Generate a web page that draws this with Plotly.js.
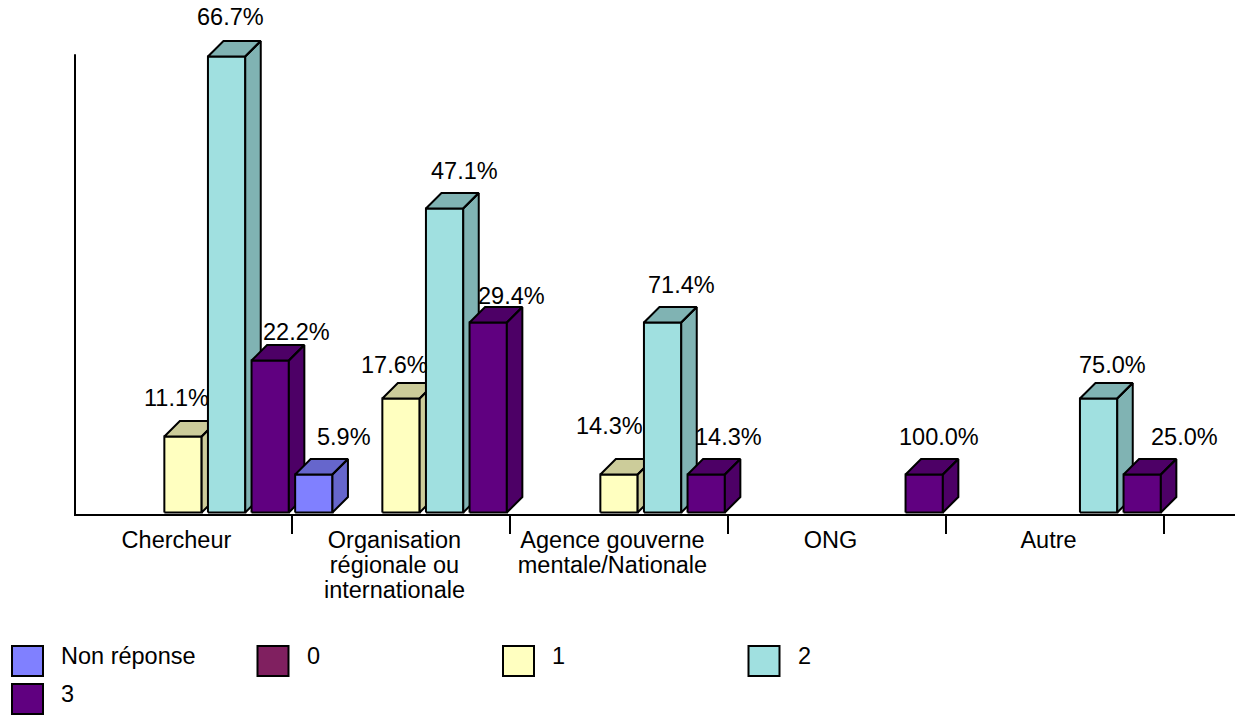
<!DOCTYPE html>
<html>
<head>
<meta charset="utf-8">
<script src="https://cdn.plot.ly/plotly-3.0.1.min.js"></script>
<style>html,body{margin:0;padding:0;background:#fff;}#chart{width:1235px;height:717px;}</style>
</head>
<body>
<div id="chart"></div>
<script>
// ---------------- DATA ----------------
const categories = ["Chercheur", "Organisation régionale ou internationale", "Agence gouverne mentale/Nationale", "ONG", "Autre"];
const categoryTickLines = [["Chercheur"], ["Organisation", "régionale ou", "internationale"], ["Agence gouverne", "mentale/Nationale"], ["ONG"], ["Autre"]];
const seriesNames = ["Non réponse", "0", "1", "2", "3"];
// bar heights (number of answers)
const countNonReponse = [0, 1, 0, 0, 0];
const countZero       = [0, 0, 0, 0, 0];
const countOne        = [2, 3, 1, 0, 0];
const countTwo        = [12, 8, 5, 0, 3];
const countThree      = [4, 5, 1, 1, 1];
// percentage labels shown above the bars
const pctNonReponse = [null, 5.9, null, null, null];
const pctZero       = [null, null, null, null, null];
const pctOne        = [11.1, 17.6, 14.3, null, null];
const pctTwo        = [66.7, 47.1, 71.4, null, 75.0];
const pctThree      = [22.2, 29.4, 14.3, 100.0, 25.0];
// value axis top (the vertical axis line ends here)
const valueAxisMax = 12.06;

// ---------------- STYLE ----------------
const FONT = "Liberation Sans, Arial, sans-serif";
const FS = 23.5;
const frontColors = ["#8080FF", "#802060", "#FFFFC0", "#A0E0E0", "#600080"];
const shadeColors = ["#6666CC", "#661A4D", "#CCCC9A", "#80B3B3", "#4D0066"];
const M = {l: 74, r: 0, t: 0, b: 203};
const W = 1235, H = 717;
const PW = W - M.l - M.r, PH = H - M.t - M.b;
const PX_PER_CAT = 218, PX_PER_UNIT = 38;
const ZERO_BELOW = 1.5; // px from plot bottom to value 0
const xRange = [-0.5, -0.5 + PW / PX_PER_CAT];
const yMin = -ZERO_BELOW / PX_PER_UNIT;
const yRange = [yMin, yMin + PH / PX_PER_UNIT];
const SLOT = 0.2, BAR_W = 37.3 / PX_PER_CAT;
const DX = 15.5 / PX_PER_CAT, DY = 15.5 / PX_PER_UNIT;
// label nudges in px [xshift, yshift] per series/category
const LABEL_NUDGE = [
  [null, [30, 38], null, null, null],
  [null, null, null, null, null],
  [[-7, 39], [-7, 34], [-10, 49], null, null],
  [[4, 40], [20, 38], [19, 38], null, [14, 34]],
  [[26, 29], [23, 27], [22, 38], [15, 38], [42, 38]]
];

const counts = [countNonReponse, countZero, countOne, countTwo, countThree];
const pcts = [pctNonReponse, pctZero, pctOne, pctTwo, pctThree];

const traces = [];
const annotations = [];
for (let c = 0; c < categories.length; c++) {
  for (let s = 0; s < seriesNames.length; s++) {
    const h = counts[s][c];
    if (!h) continue;
    const xc = c + (s - 2) * SLOT;
    const xl = xc - BAR_W / 2, xr = xc + BAR_W / 2;
    traces.push({
      type: "scatter", mode: "lines", fill: "toself",
      x: [xl, xr, xr, xl, xl], y: [0, 0, h, h, 0],
      fillcolor: frontColors[s], line: {color: "#000", width: 2},
      name: seriesNames[s],
      hoveron: "fills", text: seriesNames[s] + " – " + categories[c] + ": " + pcts[s][c] + "%", hoverinfo: "text",
      showlegend: false
    });
    traces.push({
      type: "scatter", mode: "lines", fill: "toself",
      x: [xl, xr, xr + DX, xl + DX, xl, null, xr, xr + DX, xr + DX, xr, xr],
      y: [h, h, h + DY, h + DY, h, null, 0, DY, h + DY, h, 0],
      fillcolor: shadeColors[s], line: {color: "#000", width: 2},
      hoverinfo: "skip", showlegend: false
    });
    if (pcts[s][c] != null) {
      const n = LABEL_NUDGE[s][c] || [16, 38];
      annotations.push({
        x: xc, y: h, xref: "x", yref: "y", showarrow: false,
        text: pcts[s][c].toFixed(1) + "%", xanchor: "center", yanchor: "middle",
        xshift: n[0], yshift: n[1], font: {family: FONT, size: FS, color: "#000"}
      });
    }
  }
}

// custom legend (boxes + labels)
const px2x = px => (px - M.l) / PW;
const py2y = py => (M.t + PH - py) / PH;
const shapes = [];
// vertical value axis line, from 0 to valueAxisMax
shapes.push({type: "line", xref: "paper", yref: "y", x0: px2x(75), x1: px2x(75), y0: yMin, y1: valueAxisMax,
  line: {color: "#000", width: 2}});
const LEG = {x0: 12, colStep: 245.5, rowY: [646, 684], box: 31, textGap: 18, perRow: 4};
seriesNames.forEach((name, i) => {
  const col = i % LEG.perRow, row = Math.floor(i / LEG.perRow);
  const bx = LEG.x0 + col * LEG.colStep, by = LEG.rowY[row];
  shapes.push({type: "rect", xref: "paper", yref: "paper",
    x0: px2x(bx), x1: px2x(bx + LEG.box), y0: py2y(by), y1: py2y(by + 30),
    fillcolor: frontColors[i], line: {color: "#000", width: 2}});
  annotations.push({xref: "paper", yref: "paper", x: px2x(bx + LEG.box + LEG.textGap - 2), y: py2y(by + 10),
    xanchor: "left", yanchor: "middle", showarrow: false, text: name,
    font: {family: FONT, size: FS, color: "#000"}});
});

const tickText = categoryTickLines.map(lines => lines.map(l => '<span style="font-size:' + FS + 'px">' + l + '</span>').join("<br>"));

const layout = {
  width: W, height: H, margin: M,
  paper_bgcolor: "#fff", plot_bgcolor: "#fff",
  showlegend: false,
  xaxis: {
    range: xRange, showgrid: false, zeroline: false,
    showline: true, linecolor: "#000", linewidth: 2,
    tickmode: "array", tickvals: categories.map((_, i) => i - 0.03), ticktext: tickText,
    ticks: "outside", ticklen: 8, tickcolor: "rgba(0,0,0,0)",
    tickfont: {family: FONT, size: 19.6, color: "#000"},
    minor: {tickmode: "array", tickvals: categories.map((_, i) => i + 0.5), ticks: "outside", ticklen: 18, tickwidth: 2, tickcolor: "#000", showgrid: false}
  },
  yaxis: {
    range: yRange, showgrid: false, zeroline: false, showticklabels: false, ticks: "",
    showline: false
  },
  shapes: shapes,
  annotations: annotations
};

Plotly.newPlot("chart", traces, layout, {displayModeBar: false, staticPlot: true});
</script>
</body>
</html>
